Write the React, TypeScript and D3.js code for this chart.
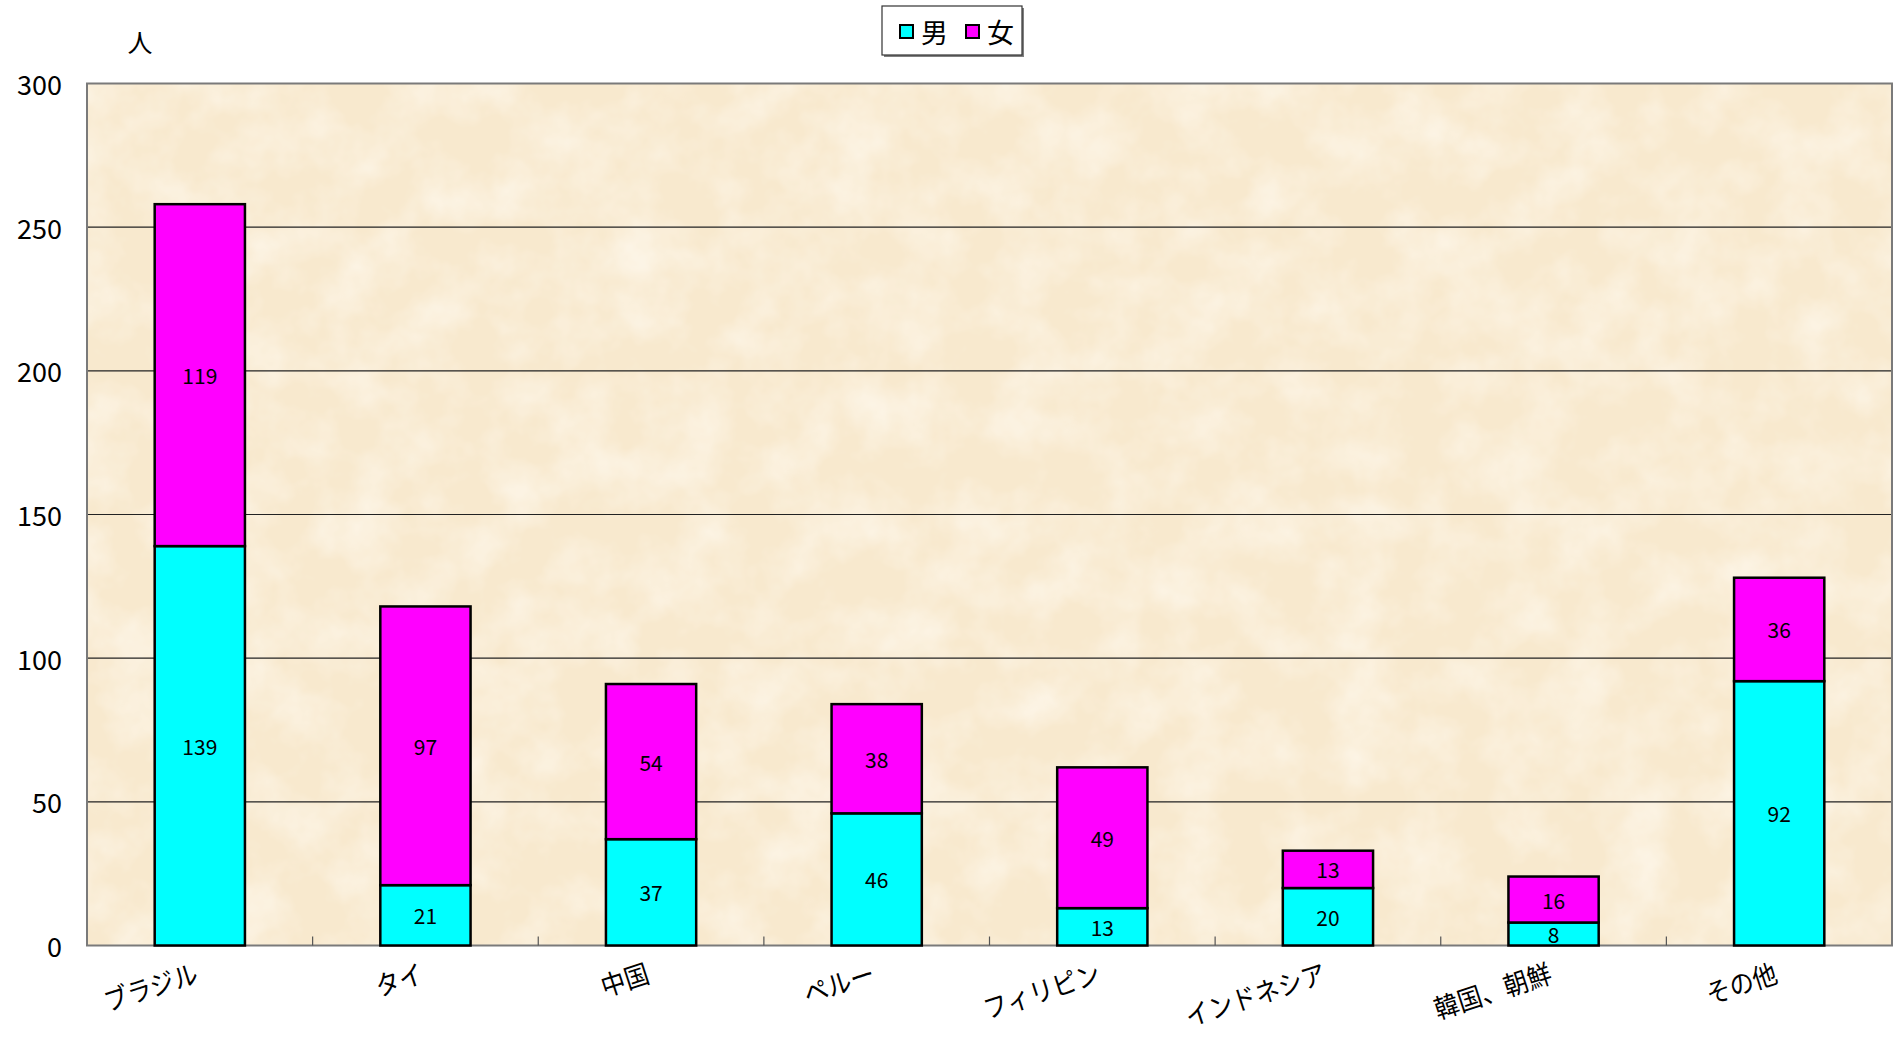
import { scaleBand, scaleLinear } from "d3";

const categories = ["ブラジル", "タイ", "中国", "ペルー", "フィリピン", "インドネシア", "韓国、朝鮮", "その他"];
const maleValues = [139, 21, 37, 46, 13, 20, 8, 92];
const femaleValues = [119, 97, 54, 38, 49, 13, 16, 36];
const yTicks = [0, 50, 100, 150, 200, 250, 300];
const seriesNames = ["男", "女"];
const seriesColors = ["#00FFFF", "#FF00FF"];

const FONT = "'Noto Sans CJK JP', 'Noto Sans', sans-serif";

export default function App() {
  const width = 1898;
  const height = 1038;
  const plot = { left: 87, right: 1892, top: 83.5, bottom: 945.5 };

  const x = scaleBand<string>().domain(categories).range([plot.left, plot.right]).padding(0);
  const y = scaleLinear().domain([0, 300]).range([plot.bottom, plot.top]);
  const barW = x.bandwidth() * 0.4;

  const stacks = categories.map((c, i) => ({
    cat: c,
    segs: [
      { v: maleValues[i], y0: 0, y1: maleValues[i], color: seriesColors[0] },
      { v: femaleValues[i], y0: maleValues[i], y1: maleValues[i] + femaleValues[i], color: seriesColors[1] },
    ],
  }));

  const pw = plot.right - plot.left;
  const ph = plot.bottom - plot.top;

  return (
    <svg
      width={width}
      height={height}
      style={{ position: "absolute", left: 0, top: 0, background: "#fff" }}
      fontFamily={FONT}
    >
      <defs>
        <filter id="paper" x="0" y="0" width="100%" height="100%">
          <feTurbulence type="fractalNoise" baseFrequency="0.018" numOctaves={4} seed={11} />
          <feColorMatrix
            type="matrix"
            values="0 0 0 0 1  0 0 0 0 0.97  0 0 0 0 0.91  1.1 0 0 0 -0.4"
          />
        </filter>
      </defs>

      {/* plot background */}
      <rect x={plot.left} y={plot.top} width={pw} height={ph} fill="#F8E9CE" />
      <rect x={plot.left} y={plot.top} width={pw} height={ph} fill="#fff" filter="url(#paper)" />

      {/* gridlines */}
      {yTicks.filter((t) => t > 0 && t < 300).map((t) => (
        <line key={t} x1={plot.left} x2={plot.right} y1={y(t)} y2={y(t)} stroke="#222" strokeWidth={1.2} />
      ))}

      {/* border */}
      <rect x={plot.left} y={plot.top} width={pw} height={ph} fill="none" stroke="#7a7a7a" strokeWidth={2} />

      {/* x ticks */}
      {categories.slice(1).map((c) => (
        <line key={c} x1={x(c)!} x2={x(c)!} y1={plot.bottom} y2={plot.bottom - 9} stroke="#555" strokeWidth={1.2} />
      ))}

      {/* bars */}
      {stacks.map((s) => {
        const cx = x(s.cat)! + x.bandwidth() / 2;
        return (
          <g key={s.cat}>
            {s.segs.map((seg, j) => (
              <g key={j}>
                <rect
                  x={cx - barW / 2}
                  y={y(seg.y1)}
                  width={barW}
                  height={y(seg.y0) - y(seg.y1)}
                  fill={seg.color}
                  stroke="#000"
                  strokeWidth={2.5}
                />
                <text
                  x={cx}
                  y={(y(seg.y0) + y(seg.y1)) / 2}
                  textAnchor="middle"
                  dominantBaseline="central"
                  fontSize={21}
                  fill="#000"
                >
                  {seg.v}
                </text>
              </g>
            ))}
          </g>
        );
      })}

      {/* y tick labels */}
      {yTicks.map((t) => (
        <text key={t} x={62} y={y(t)} textAnchor="end" dominantBaseline="central" fontSize={27} fill="#000">
          {t}
        </text>
      ))}

      {/* unit */}
      <text x={140} y={41} textAnchor="middle" dominantBaseline="central" fontSize={25} fill="#000">
        人
      </text>

      {/* x labels */}
      {categories.map((c) => {
        const cx = x(c)! + x.bandwidth() / 2;
        return (
          <text
            key={c}
            transform={`translate(${cx},${982}) rotate(-18) scale(0.9,1)`}
            textAnchor="end"
            fontSize={27}
            fill="#000"
          >
            {c}
          </text>
        );
      })}

      {/* legend */}
      <g>
        <rect x={884} y={8} width={140} height={49} fill="#808080" />
        <rect x={882} y={6} width={140} height={49} fill="#fff" stroke="#333" strokeWidth={1.2} />
        {seriesNames.map((n, i) => (
          <g key={n} transform={`translate(${900 + i * 66},0)`}>
            <rect x={0} y={25} width={13} height={13} fill={seriesColors[i]} stroke="#000" strokeWidth={2} />
            <text x={21} y={31.5} dominantBaseline="central" fontSize={27} fill="#000">
              {n}
            </text>
          </g>
        ))}
      </g>
    </svg>
  );
}
